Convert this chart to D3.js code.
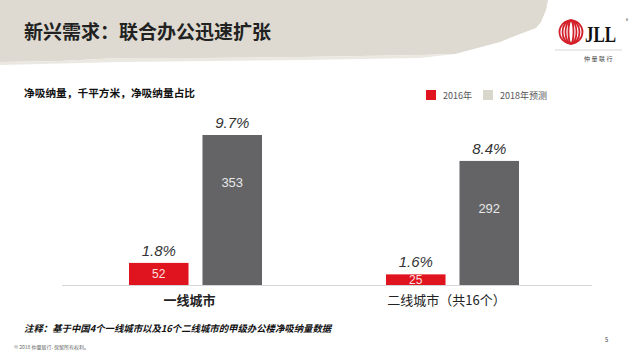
<!DOCTYPE html>
<html><head><meta charset="utf-8">
<script src="https://cdn.jsdelivr.net/npm/d3@7"></script>
<style>
html,body{margin:0;padding:0;background:#fff;}
svg{display:block;font-family:"Noto Sans CJK SC","Noto Sans",Arial,sans-serif;}
</style></head>
<body>
<svg id="c" width="640" height="360"></svg>
<script>
const categories = ["一线城市", "二线城市（共16个）"];
const seriesNames = ["2016年", "2018年预测"];
const values2016 = [52, 25];
const values2018 = [353, 292];
const share2016 = ["1.8%", "1.6%"];
const share2018 = ["9.7%", "8.4%"];

const svg = d3.select("#c");
const font = '"Noto Sans CJK SC","Noto Sans",sans-serif';

// brush-stroke header background
svg.append("path")
  .attr("d", "M0,0 L548,0 L546,10 L541,22 L536,28 L520,34 L500,42 L470,50 L455,54 L420,55 L300,57 L200,58 L120,58 L60,61 L0,62 Z")
  .attr("fill", "#dedad1");
svg.append("path")
  .attr("d", "M0,62 L60,61 L120,58 L200,58 L300,57 L420,55 L455,54 L420,58 L300,60 L120,62 L0,65 Z")
  .attr("fill", "#ebe8e1");

svg.append("text").attr("x", 24).attr("y", 39)
  .attr("font-size", 19).attr("font-weight", "bold").attr("fill", "#222")
  .attr("font-family", font)
  .text("新兴需求：联合办公迅速扩张");

// JLL logo
const logo = svg.append("g");
[11.5, 8.5, 5.5, 2.5].forEach(rx => {
  logo.append("ellipse").attr("cx", 571).attr("cy", 32).attr("rx", rx).attr("ry", 11.5)
    .attr("fill", "none").attr("stroke", "#d3212b").attr("stroke-width", 1.8);
});
logo.append("text").attr("transform", "translate(585,42) scale(1,1.4)").attr("font-size", 17).attr("font-weight", "bold")
  .attr("font-family", '"Liberation Serif","DejaVu Serif",serif').attr("fill", "#111").text("JLL");
logo.append("text").attr("x", 626).attr("y", 22).attr("font-size", 4).attr("fill", "#111").text("®");
logo.append("line").attr("x1", 555).attr("x2", 622).attr("y1", 50).attr("y2", 50).attr("stroke", "#ccc").attr("stroke-width", 0.8);
logo.append("text").attr("x", 614).attr("y", 61).attr("text-anchor", "end").attr("font-size", 6)
  .attr("font-family", font).attr("fill", "#444").attr("letter-spacing", 1.5).text("仲量联行");

// subtitle
svg.append("text").attr("x", 24).attr("y", 97).attr("font-size", 10.7).attr("font-weight", "bold")
  .attr("font-family", font).attr("fill", "#111").text("净吸纳量，千平方米，净吸纳量占比");

// legend
const colors = ["#e0141e", "#646466"];
const legendColors = ["#e0141e", "#d9d6cc"];
const legX = [426, 483];
seriesNames.forEach((n, i) => {
  svg.append("rect").attr("x", legX[i]).attr("y", 90).attr("width", 10).attr("height", 10).attr("fill", legendColors[i]);
  svg.append("text").attr("x", legX[i] + 17).attr("y", 99).attr("font-size", 9).attr("fill", "#555")
    .attr("font-family", font).text(n);
});

// scales
const x0 = d3.scaleBand().domain(categories).range([66, 580]).padding(0);
const x1 = d3.scaleBand().domain(seriesNames).range([63, 196]).paddingInner(0.19).paddingOuter(0);
const y = d3.scaleLinear().domain([0, 353]).range([285, 135]);

// baseline
svg.append("line").attr("x1", 62).attr("x2", 592).attr("y1", y(0) + 0.5).attr("y2", y(0) + 0.5)
  .attr("stroke", "#d6d6d6").attr("stroke-width", 1.2);

const rows = categories.map((c, i) => ({
  cat: c,
  bars: [
    {s: seriesNames[0], v: values2016[i], p: share2016[i], color: colors[0]},
    {s: seriesNames[1], v: values2018[i], p: share2018[i], color: colors[1]}
  ]
}));

const g = svg.selectAll("g.cat").data(rows).join("g").attr("class", "cat")
  .attr("transform", d => `translate(${x0(d.cat)},0)`);

g.selectAll("rect").data(d => d.bars).join("rect")
  .attr("x", d => x1(d.s)).attr("width", x1.bandwidth())
  .attr("y", d => y(d.v)).attr("height", d => y(0) - y(d.v))
  .attr("fill", d => d.color);

g.selectAll("text.val").data(d => d.bars).join("text").attr("class", "val")
  .attr("x", d => x1(d.s) + x1.bandwidth() / 2)
  .attr("y", d => d.v > 100 ? y(d.v) + 52 : (y(0) + y(d.v)) / 2 + 4.5)
  .attr("text-anchor", "middle").attr("font-size", d => d.v > 100 ? 13 : 12)
  .attr("font-family", '"Liberation Sans",Arial,sans-serif')
  .attr("fill", d => d.v > 100 ? "#e8e8e8" : "#fbe0e0").text(d => d.v);

g.selectAll("text.pct").data(d => d.bars).join("text").attr("class", "pct")
  .attr("x", d => x1(d.s) + x1.bandwidth() / 2)
  .attr("y", d => y(d.v) - 7)
  .attr("text-anchor", "middle").attr("font-size", 15).attr("font-style", "italic")
  .attr("font-family", '"Liberation Sans",Arial,sans-serif')
  .attr("fill", "#333").text(d => d.p);

g.append("text").attr("x", x0.bandwidth() / 2 - 5).attr("y", 305)
  .attr("text-anchor", "middle").attr("font-size", 13)
  .attr("font-weight", (d, i) => i === 0 ? "bold" : "normal")
  .attr("font-family", font).attr("fill", "#222").text(d => d.cat);

// footnote
svg.append("text").attr("x", 24).attr("y", 332).attr("font-size", 9.4).attr("font-weight", "bold")
  .attr("font-style", "italic").attr("font-family", font).attr("fill", "#111")
  .text("注释：基于中国4个一线城市以及16个二线城市的甲级办公楼净吸纳量数据");
svg.append("text").attr("x", 14).attr("y", 349).attr("font-size", 5).attr("font-family", font).attr("fill", "#666")
  .text("© 2018 仲量联行. 保留所有权利。");
svg.append("text").attr("x", 605).attr("y", 342).attr("font-size", 6).attr("font-family", font).attr("fill", "#444").text("5");
</script>
</body></html>
